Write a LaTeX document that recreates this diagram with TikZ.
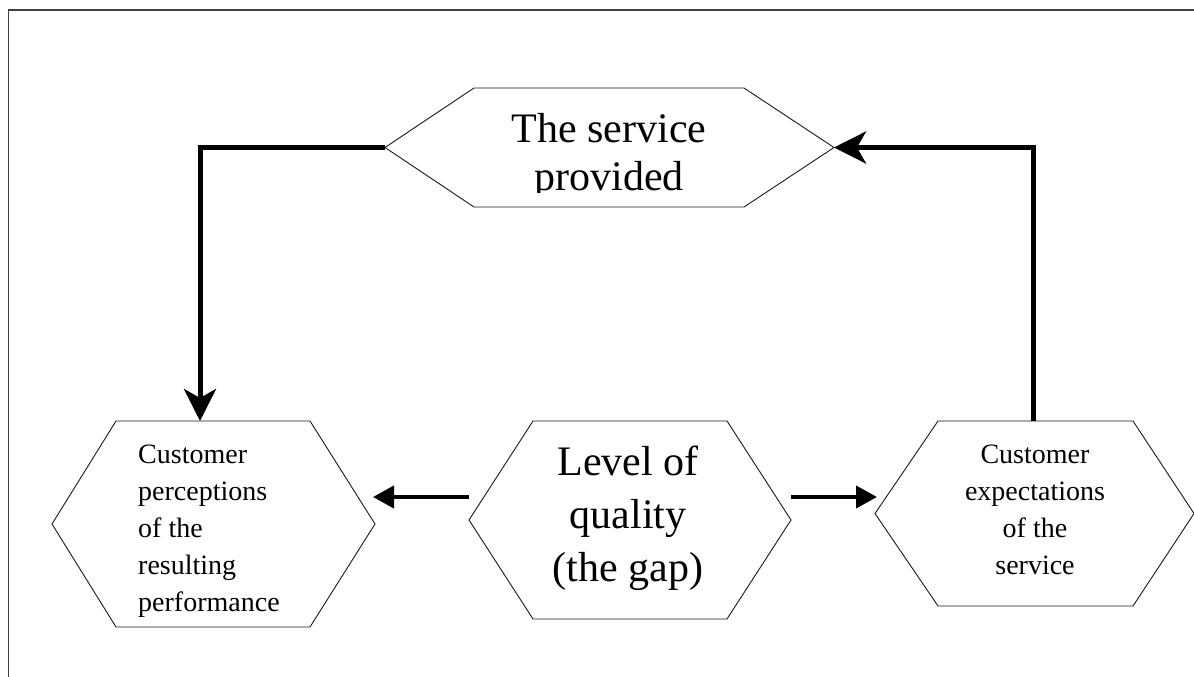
\documentclass[tikz,border=0pt]{standalone}
\usepackage{fontspec}
\setmainfont{Liberation Serif}
\usetikzlibrary{arrows.meta,calc}
\begin{document}
\begin{tikzpicture}[x=1pt,y=-1pt,
  hexbox/.style={shape=rectangle,inner sep=0pt,outer sep=0pt},
  hexline/.style={draw=black!90,line width=0.9pt,line join=miter},
  frameline/.style={draw=black!75,line width=1.2pt},
  bigarrow/.style={line width=5pt,-{Stealth[length=32pt,width=32pt,inset=9pt]}},
  midarrow/.style={line width=4pt,-{Triangle[length=21pt,width=22pt]}},
  bigtext/.style={inner sep=0pt,align=center,font=\fontsize{42}{#1}\selectfont},
  smalltext/.style={inner sep=0pt,font=\fontsize{28}{37}\selectfont},
]
\useasboundingbox (0,0) rectangle (1194,677);
% frame (only left and top edges visible)
\draw[frameline] (8.5,680) -- (8.5,10) -- (1197,10);

% hexagons
\node[hexbox,minimum width=449pt,minimum height=119pt] (top) at (609.5,147.5) {};
\draw[hexline] (top.west) -- ([xshift=89pt]top.north west) -- ([xshift=-90pt]top.north east) -- (top.east) -- ([xshift=-90pt]top.south east) -- ([xshift=89pt]top.south west) -- cycle;

\node[hexbox,minimum width=323pt,minimum height=206pt] (left) at (213.5,524) {};
\draw[hexline] (left.west) -- ([xshift=64pt]left.north west) -- ([xshift=-65pt]left.north east) -- (left.east) -- ([xshift=-65pt]left.south east) -- ([xshift=64pt]left.south west) -- cycle;

\node[hexbox,minimum width=322pt,minimum height=198pt] (mid) at (630,520) {};
\draw[hexline] (mid.west) -- ([xshift=64pt]mid.north west) -- ([xshift=-64pt]mid.north east) -- (mid.east) -- ([xshift=-64pt]mid.south east) -- ([xshift=64pt]mid.south west) -- cycle;

\node[hexbox,minimum width=319pt,minimum height=185pt] (right) at (1034.5,513.5) {};
\draw[hexline] (right.west) -- ([xshift=63pt]right.north west) -- ([xshift=-61pt]right.north east) -- (right.east) -- ([xshift=-61pt]right.south east) -- ([xshift=63pt]right.south west) -- cycle;

% texts (anchor base = baseline of the last line)
\begin{scope}
\clip (385,88) rectangle (834,192);
\node[bigtext=48pt,anchor=base] (toptxt) at (609,190) {The service\\provided};
\end{scope}
\node[bigtext=53pt,anchor=base] (midtxt) at (628,581) {Level of\\quality\\(the gap)};
\node[smalltext,align=left,anchor=base west] (lefttxt) at (138,611) {Customer\\perceptions\\of the\\resulting\\performance};
\node[smalltext,align=center,anchor=base] (righttxt) at (1035,574) {Customer\\expectations\\of the\\service};

% connectors
\coordinate (ay) at (0,497);
\draw[bigarrow] (top.west) -| ([xshift=-13.5pt]left.north);
\draw[bigarrow] ([xshift=-1pt]right.north) |- (top.east);
\draw[midarrow] (mid.west |- ay) -- ($(left.east |- ay)+(-2,0)$);
\draw[midarrow] (mid.east |- ay) -- ($(right.west |- ay)+(2,0)$);
\end{tikzpicture}
\end{document}
